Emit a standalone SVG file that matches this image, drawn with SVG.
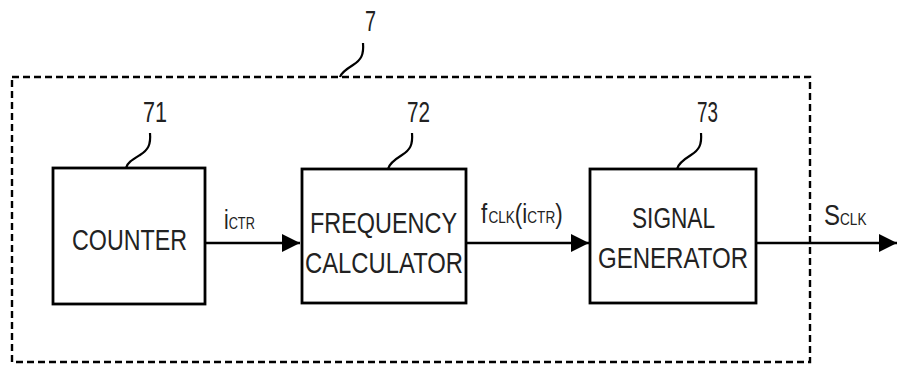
<svg xmlns="http://www.w3.org/2000/svg" width="898" height="365" viewBox="0 0 898 365">
<defs>
<style>
.box{fill:#fff;stroke:#000;stroke-width:2.8}
.t{font-family:"Liberation Sans",Arial,sans-serif;fill:#222;font-size:29px}
.s{font-family:"Liberation Sans",Arial,sans-serif;fill:#222;font-size:28px}
.sub{font-size:17px}
.ld{fill:none;stroke:#000;stroke-width:2.2}
.wire{fill:none;stroke:#000;stroke-width:2.5}
</style>
<marker id="ah" viewBox="0 0 10 10" refX="10" refY="5" markerWidth="23" markerHeight="18" markerUnits="userSpaceOnUse" orient="auto">
<path d="M0,0 L10,5 L0,10 z" fill="#000"/>
</marker>
</defs>
<rect width="898" height="365" fill="#fff"/>
<g id="frame7">
<rect x="12" y="77" width="798" height="285" fill="none" stroke="#000" stroke-width="2.4" stroke-dasharray="7,4"/>
<path class="ld" d="M363,43 C364,55 361,60 353,65 C345,70 341,73 340,77"/>
<text class="t" x="365" y="31" textLength="11" lengthAdjust="spacingAndGlyphs">7</text>
</g>
<g id="counter71">
<rect class="box" x="53" y="168" width="152" height="136"/>
<path class="ld" d="M150,133 C151,145 148,150 140,155 C132,160 127,163 126,168"/>
<text class="t" x="143" y="122" textLength="24" lengthAdjust="spacingAndGlyphs">71</text>
<text class="t" x="72" y="250" textLength="115" lengthAdjust="spacingAndGlyphs">COUNTER</text>
</g>
<g id="freqcalc72">
<rect class="box" x="302" y="169" width="164" height="134"/>
<path class="ld" d="M412,133 C413,145 410,150 402,155 C394,160 389,164 388,169"/>
<text class="t" x="407" y="122" textLength="23" lengthAdjust="spacingAndGlyphs">72</text>
<text class="t" x="310" y="233" textLength="147" lengthAdjust="spacingAndGlyphs">FREQUENCY</text>
<text class="t" x="305" y="273" textLength="158" lengthAdjust="spacingAndGlyphs">CALCULATOR</text>
</g>
<g id="siggen73">
<rect class="box" x="590" y="169" width="166" height="134"/>
<path class="ld" d="M701,133 C702,145 699,150 691,155 C683,160 678,164 677,169"/>
<text class="t" x="697" y="122" textLength="21" lengthAdjust="spacingAndGlyphs">73</text>
<text class="t" x="632" y="228" textLength="83" lengthAdjust="spacingAndGlyphs">SIGNAL</text>
<text class="t" x="598" y="268" textLength="150" lengthAdjust="spacingAndGlyphs">GENERATOR</text>
</g>
<g id="connectors">
<line class="wire" x1="205" y1="243" x2="300" y2="243" marker-end="url(#ah)"/>
<line class="wire" x1="466" y1="243" x2="589" y2="243" marker-end="url(#ah)"/>
<line class="wire" x1="756" y1="243" x2="897" y2="243" marker-end="url(#ah)"/>
</g>
<g id="labels">
<text class="s" transform="translate(224,229) scale(0.75,1)">i<tspan class="sub" font-size="19">CTR</tspan></text>
<text class="s" transform="translate(481,223) scale(0.8,1)">f<tspan class="sub" font-size="16" dx="1.5">CLK</tspan>(i<tspan class="sub" font-size="16">CTR</tspan>)</text>
<text class="s" transform="translate(824,225) scale(0.8,1)"><tspan font-size="30">S</tspan><tspan class="sub" font-size="18">CLK</tspan></text>
</g>
</svg>
